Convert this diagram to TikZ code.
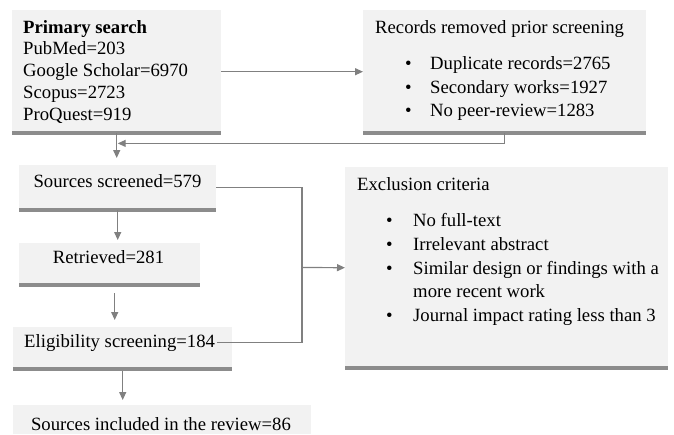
\documentclass[tikz,border=0pt]{standalone}
\usepackage{fontspec}
\setmainfont{Liberation Serif}
\usetikzlibrary{arrows.meta,positioning,calc}
\definecolor{boxfill}{HTML}{F2F2F2}
\definecolor{barline}{HTML}{8C8C8C}
\definecolor{linkgray}{HTML}{808080}

\begin{document}
\begin{tikzpicture}[x=1pt,y=-1pt,
  box/.style={fill=boxfill,draw=none,anchor=north west,inner sep=0pt},
  txt/.style={font=\fontsize{18.7}{21.75}\selectfont,inner sep=0pt,align=left},
  lst/.style={font=\fontsize{18.7}{23.7}\selectfont,inner sep=0pt,align=left},
  link/.style={draw=linkgray,line width=1.2pt},
  tip/.style={-{Triangle[length=8pt,width=7pt]}},
  bar/.style={draw=barline,line width=4pt}]
  \useasboundingbox (0,0) rectangle (674,434);
  % Boxes
  \node[box,minimum width=209pt,minimum height=123pt] (prim) at (12,10) {};
  \node[box,minimum width=283pt,minimum height=123pt] (removed) at (363,10) {};
  \node[box,minimum width=197pt,minimum height=45pt] (screened) at (19,165) {};
  \node[box,minimum width=181pt,minimum height=42pt] (retrieved) at (19,243) {};
  \node[box,minimum width=219pt,minimum height=42pt] (elig) at (13,327) {};
  \node[box,minimum width=298pt,minimum height=29pt] (included) at (13,405) {};
  \node[box,minimum width=323pt,minimum height=201pt] (excl) at (345,167) {};
  % Bottom bars
  \foreach \b in {prim,removed,screened,retrieved,elig,excl}
    \draw[bar] (\b.south west) -- (\b.south east);
  % Texts (multi-line nodes sit on the baseline of their last line)
  \node[txt,anchor=base west] (primtxt) at (23,120)
    {\textbf{Primary search}\\PubMed=203\\Google Scholar=6970\\Scopus=2723\\ProQuest=919};
  \node[txt,anchor=base west] (remtitle) at (375,33) {Records removed prior screening};
  \node[lst,anchor=base west] (remlist) at (405,116.7)
    {\makebox[25pt][l]{\textbullet}Duplicate records=2765\\
     \makebox[25pt][l]{\textbullet}Secondary works=1927\\
     \makebox[25pt][l]{\textbullet}No peer-review=1283};
  \node[txt,anchor=base] (screenedtxt) at (117.5,187) {Sources screened=579};
  \node[txt,anchor=base] (retrievedtxt) at (108.5,263) {Retrieved=281};
  \node[txt,anchor=base west] (eligtxt) at (24,347) {Eligibility screening=184};
  \node[txt,anchor=base] (includedtxt) at (161,430) {Sources included in the review=86};
  \node[txt,anchor=base west] (excltitle) at (357,190.7) {Exclusion criteria};
  \node[lst,anchor=base west] (excllist) at (386,321.5)
    {\makebox[27pt][l]{\textbullet}No full-text\\
     \makebox[27pt][l]{\textbullet}Irrelevant abstract\\
     \makebox[27pt][l]{\textbullet}Similar design or findings with a\\
     \makebox[27pt][l]{}more recent work\\
     \makebox[27pt][l]{\textbullet}Journal impact rating less than 3};
  % Arrows
  \coordinate (join) at ($(prim.south)+(0,10)$);
  \coordinate (merge) at (302,267.5);
  \draw[link,tip] (prim.east) -- (removed.west);
  \draw[link,tip,shorten >=1pt] (removed.south) |- (join);
  \draw[link,tip,shorten >=7pt] (prim.south) -- (prim.south |- screened.north);
  \draw[link,tip,shorten >=3pt] (screened.south) -- (screened.south |- retrieved.north);
  \draw[link,tip,shorten <=8pt,shorten >=7pt] ([xshift=5pt]retrieved.south) -- ([xshift=5pt]retrieved.south |- elig.north);
  \draw[link,tip,shorten <=2pt,shorten >=5pt] (elig.south) -- (elig.south |- included.north);
  \draw[link] (screened.east) -| (merge);
  \draw[link,shorten <=2pt] (eligtxt.east) -| (merge);
  \draw[link,tip] (merge) -- (excl.west);
\end{tikzpicture}
\end{document}
